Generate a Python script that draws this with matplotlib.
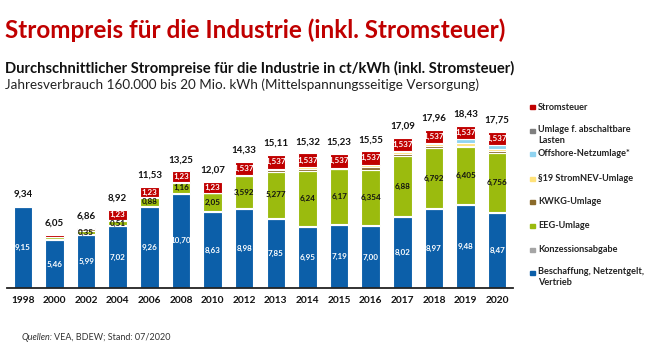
import matplotlib
matplotlib.use("Agg")
import matplotlib.pyplot as plt
from matplotlib.patches import Rectangle
import numpy as np

plt.rcParams['font.family'] = ['Lato', 'DejaVu Sans']

years = ['1998', '2000', '2002', '2004', '2006', '2008', '2010', '2012',
         '2013', '2014', '2015', '2016', '2017', '2018', '2019', '2020']
totals = ['9,34', '6,05', '6,86', '8,92', '11,53', '13,25', '12,07', '14,33',
          '15,11', '15,32', '15,23', '15,55', '17,09', '17,96', '18,43', '17,75']

beschaffung = [9.15, 5.46, 5.99, 7.02, 9.26, 10.70, 8.63, 8.98,
               7.85, 6.95, 7.19, 7.00, 8.02, 8.97, 9.48, 8.47]
konzession = [0.19, 0.11, 0.11, 0.11, 0.11, 0.11, 0.11, 0.11,
              0.11, 0.11, 0.11, 0.11, 0.11, 0.11, 0.11, 0.11]
eeg = [0.0, 0.20, 0.35, 0.51, 0.88, 1.16, 2.05, 3.592,
       5.277, 6.24, 6.17, 6.354, 6.88, 6.792, 6.405, 6.756]
kwkg = [0.0, 0.08, 0.20, 0.05, 0.05, 0.05, 0.05, 0.002,
        0.126, 0.178, 0.10, 0.30, 0.25, 0.25, 0.18, 0.226]
par19 = [0.0, 0.0, 0.0, 0.0, 0.0, 0.0, 0.0, 0.109,
         0.16, 0.25, 0.07, 0.20, 0.20, 0.20, 0.30, 0.24]
offshore = [0.0, 0.0, 0.0, 0.0, 0.0, 0.0, 0.0, 0.0,
            0.05, 0.05, 0.05, 0.045, 0.09, 0.10, 0.41, 0.404]
abschalt = [0.0, 0.0, 0.0, 0.0, 0.0, 0.0, 0.0, 0.0,
            0.0, 0.005, 0.003, 0.004, 0.003, 0.001, 0.008, 0.007]
stromsteuer = [0.0, 0.20, 0.21, 1.23, 1.23, 1.23, 1.23, 1.537,
               1.537, 1.537, 1.537, 1.537, 1.537, 1.537, 1.537, 1.537]

lbl_besch = ['9,15', '5,46', '5,99', '7,02', '9,26', '10,70', '8,63', '8,98',
             '7,85', '6,95', '7,19', '7,00', '8,02', '8,97', '9,48', '8,47']
lbl_eeg = ['', '', '0,35', '0,51', '0,88', '1,16', '2,05', '3,592',
           '5,277', '6,24', '6,17', '6,354', '6,88', '6,792', '6,405', '6,756']
lbl_strom = ['', '', '', '1,23', '1,23', '1,23', '1,23', '1,537',
             '1,537', '1,537', '1,537', '1,537', '1,537', '1,537', '1,537', '1,537']

series = [
    ('Beschaffung, Netzentgelt,\nVertrieb', beschaffung, '#0c5fa9'),
    ('Konzessionsabgabe', konzession, '#a5a5a5'),
    ('EEG-Umlage', eeg, '#9bbb0e'),
    ('KWKG-Umlage', kwkg, '#8a6a2a'),
    ('§19 StromNEV-Umlage', par19, '#ffe27a'),
    ('Offshore-Netzumlage*', offshore, '#8fd3f0'),
    ('Umlage f. abschaltbare\nLasten', abschalt, '#7f7f7f'),
    ('Stromsteuer', stromsteuer, '#c00000'),
]

W, H = 650, 353
fig = plt.figure(figsize=(6.5, 3.53), dpi=100)

def fx(px):
    return px / W

def fy(py):
    return 1 - py / H

ax = fig.add_axes([fx(7), fy(288), fx(513) - fx(7), fy(112) - fy(288)])
x = np.arange(len(years))
bottom = np.zeros(len(years))
for name, vals, col in series:
    v = np.array(vals)
    ax.bar(x, v, 0.585, bottom=bottom, color=col, edgecolor='white', linewidth=0.8)
    bottom = bottom + v

ax.set_xlim(-0.5, 15.5)
ax.set_ylim(0, 20)
for s in ['top', 'right', 'left']:
    ax.spines[s].set_visible(False)
ax.spines['bottom'].set_linewidth(1.3)
ax.spines['bottom'].set_color('#222222')
ax.set_yticks([])
ax.set_xticks(x)
ax.set_xticklabels(years, fontsize=7.3, fontweight='bold', color='#111111')
ax.tick_params(axis='x', length=0, pad=6)

b = np.array(beschaffung)
k = np.array(konzession)
e = np.array(eeg)
s_ = np.array(stromsteuer)
for i in range(len(years)):
    ax.text(x[i], b[i] / 2, lbl_besch[i], ha='center', va='center',
            color='white', fontsize=5.8, fontweight='bold')
    if lbl_eeg[i]:
        ax.text(x[i], b[i] + k[i] + e[i] / 2, lbl_eeg[i], ha='center', va='center',
                color='#111111', fontsize=5.8, fontweight='bold')
    if lbl_strom[i]:
        ax.text(x[i], bottom[i] - s_[i] / 2, lbl_strom[i], ha='center', va='center',
                color='white', fontsize=5.8, fontweight='bold')
    ax.annotate(totals[i], (x[i], bottom[i]), xytext=(0, 5), textcoords='offset points',
                ha='center', va='bottom', fontsize=7, fontweight='bold', color='#111111')

# legend (top to bottom)
leg_y = [107, 131, 154, 179, 202, 226, 250, 273]
for (name, vals, col), yy in zip(reversed(series), leg_y):
    fig.patches.append(Rectangle((fx(530), fy(yy) - 2.2 / H), 4.5 / W, 4.5 / H,
                                 transform=fig.transFigure, color=col, figure=fig))
    if '\n' in name:
        fig.text(fx(538), fy(yy - 5.5), name, ha='left', va='top',
                 fontsize=6.6, fontweight='bold', color='#222222', linespacing=1.2)
    else:
        fig.text(fx(538), fy(yy), name, ha='left', va='center',
                 fontsize=6.6, fontweight='bold', color='#222222')

fig.text(fx(5), fy(30), 'Strompreis für die Industrie (inkl. Stromsteuer)',
         ha='left', va='center', fontsize=17.5, fontweight='bold', color='#c00000')
fig.text(fx(5), fy(68), 'Durchschnittlicher Strompreise für die Industrie in ct/kWh (inkl. Stromsteuer)',
         ha='left', va='center', fontsize=10.6, fontweight='bold', color='#111111')
fig.text(fx(5), fy(85), 'Jahresverbrauch 160.000 bis 20 Mio. kWh (Mittelspannungsseitige Versorgung)',
         ha='left', va='center', fontsize=9.7, color='#222222')
fig.text(fx(22), fy(337), 'Quellen:', ha='left', va='center', fontsize=6.5,
         style='italic', color='#333333')
fig.text(fx(54), fy(337), 'VEA, BDEW; Stand: 07/2020', ha='left', va='center',
         fontsize=6.5, color='#333333')

fig.savefig('out.png', dpi=100)
